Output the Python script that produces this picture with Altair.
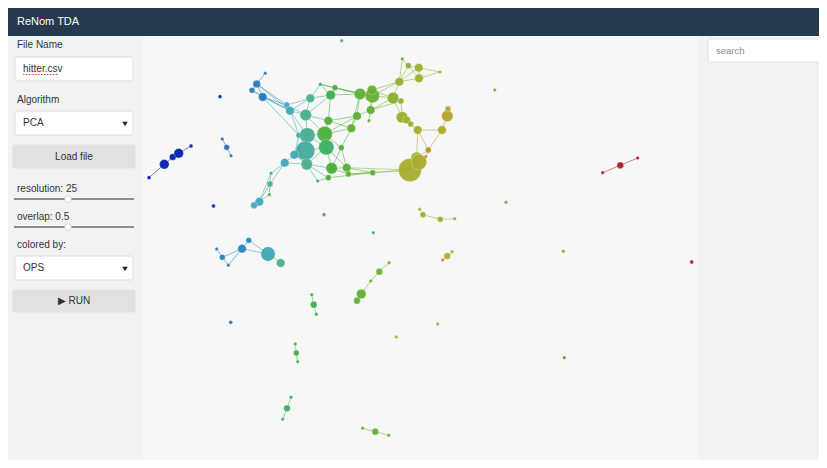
import altair as alt
import pandas as pd

# ---------------- graph data (layout coordinates, cluster size, OPS colour value) -------------
node_id = [
    "a1","a2","a3","a4","a5",
    "s1","s2","s3","s4","s5","s6","s7","s8","s9","s10","s11","s12","s13",
    "b1","b2","b3",
    "c1","c2","c3","c4","c5","c6","c7",
    "d1","d2","d3","d4","d5",
    "e1","e2","e3","e4",
    "f1","f2","f3",
    "g1","g2","g3",
    "h1","h2","h3",
    "i1","i2","i3",
    "j1","j2","j3",
    "k1","k2","k3",
    "m1","m2","m3","m4","m5","m6","m7","m8","m9","m10",
    "m11","m12","m13","m14","m15","m16","m17","m18","m19","m20",
    "m21","m22","m23","m24","m25","m26","m27","m28","m29","m30",
    "m31","m32","m33","m34","m35","m36","m37","m38","m39","m40",
    "m41","m42","m43","m44","m45","m46","m47","m48","m49","m50",
    "m51","m52","m53","m54",
    "n1","n2","n3","n4","n5",
]
node_x = [
    149, 164.3, 172.7, 178.7, 191,
    220, 213.5, 341.7, 324, 373.3, 230.7, 437.7, 396.3, 494.7, 506, 563.3, 691.7, 564.3,
    222.3, 226.7, 231,
    216.7, 222.3, 228.3, 242, 248.7, 268, 280.7,
    389, 379.3, 370.7, 361.3, 357,
    419.7, 423, 440.3, 454.7,
    452, 447.3, 442.7,
    311.7, 313.7, 316.3,
    295.3, 296.3, 297.7,
    291, 287, 282.7,
    362.7, 375.3, 388.7,
    602.7, 620.3, 637.7,
    265.3, 256.7, 252, 262.7, 286.7, 290, 310.3, 305.7, 320.3, 330.7,
    335, 328.3, 299, 307.3, 324.7, 305.3, 294.3, 326.3, 341.3, 284.7,
    306.7, 331.7, 328.3, 317.7, 346.7, 348.3, 372.7, 360, 372.3, 372,
    357, 370.7, 369, 351.3, 402.3, 408.3, 418.7, 440, 419, 399.3,
    393, 401, 402, 406.7, 410.7, 417.7, 442, 447.3, 448, 428.3,
    425.7, 416.7, 410, 419,
    271, 270, 269.3, 259.3, 254,
]
node_y = [
    177.7, 164.3, 157, 153.3, 146,
    96.7, 206, 40.7, 214.7, 232.7, 322.3, 324, 337, 90, 202.3, 251.3, 262, 357.7,
    139, 147.3, 155.7,
    249, 257.3, 265.3, 248.7, 240.3, 254, 263,
    262.7, 271.7, 281, 294, 300.7,
    209.3, 214.7, 219.3, 218.7,
    251.7, 256, 260,
    294.7, 304.7, 314.3,
    344, 353, 361.7,
    397.3, 408.3, 419.3,
    428.3, 431.7, 435.3,
    172.7, 165.3, 158,
    73.3, 84, 90.3, 97, 105, 110.7, 98.3, 115, 84.3, 95,
    87.7, 120.7, 135.3, 135.3, 134, 150.7, 154.7, 147.3, 147.7, 162.7,
    164.3, 168.3, 177.7, 181, 167.7, 174, 172.7, 94, 95.7, 90,
    116, 110, 120.7, 128.3, 59, 65.7, 67.7, 72, 78.3, 81.7,
    98, 101, 117.3, 120, 124, 130, 130, 116, 109, 150,
    156.7, 157.7, 170, 162,
    173.3, 184, 194.7, 201.7, 205.3,
]
node_size = [
    2, 5, 3.5, 5, 2,
    2, 2, 1.8, 2, 1.8, 2, 1.8, 1.8, 1.8, 1.8, 1.8, 2, 1.8,
    1.8, 3, 1.8,
    1.8, 3, 1.8, 4.5, 3, 7.5, 4.5,
    1.8, 3.5, 1.8, 5, 3.5,
    1.8, 3, 3, 1.8,
    1.8, 3.5, 1.8,
    1.8, 3.5, 1.8,
    1.8, 3, 1.8,
    1.8, 3.5, 1.8,
    1.8, 3.5, 1.8,
    1.8, 3.5, 1.8,
    1.8, 4, 3, 4.5, 3, 4.5, 4.5, 6, 1.8, 5,
    3, 4.5, 3, 8, 8, 10, 4.5, 8, 3, 4.5,
    6, 6, 3, 1.8, 4.5, 3, 3, 6, 7.5, 5,
    4.5, 4.5, 1.8, 4.5, 1.8, 3, 4.5, 1.8, 4.5, 4.5,
    6, 3, 6, 4, 3, 4.5, 4.5, 6, 3, 3,
    1.8, 6, 12, 8,
    1.8, 3, 1.8, 4.5, 3.5,
]
node_ops = [
    0.0, 0.0, 0.0, 0.0, 0.02,
    0.02, 0.02, 0.45, 0.55, 0.45, 0.17, 0.8, 0.8, 0.87, 0.87, 0.84, 1.0, 0.91,
    0.15, 0.15, 0.15,
    0.2, 0.2, 0.18, 0.22, 0.22, 0.33, 0.42,
    0.6, 0.6, 0.6, 0.59, 0.58,
    0.72, 0.72, 0.73, 0.74,
    0.78, 0.78, 0.85,
    0.53, 0.53, 0.53,
    0.53, 0.53, 0.53,
    0.52, 0.5, 0.46,
    0.6, 0.6, 0.6,
    1.0, 1.0, 1.0,
    0.17, 0.17, 0.17, 0.17, 0.3, 0.32, 0.42, 0.42, 0.5, 0.52,
    0.55, 0.55, 0.35, 0.42, 0.55, 0.4, 0.32, 0.5, 0.55, 0.3,
    0.42, 0.55, 0.55, 0.5, 0.57, 0.57, 0.57, 0.58, 0.6, 0.6,
    0.58, 0.58, 0.58, 0.58, 0.6, 0.66, 0.72, 0.76, 0.74, 0.68,
    0.66, 0.66, 0.72, 0.72, 0.72, 0.76, 0.78, 0.8, 0.8, 0.86,
    0.88, 0.77, 0.75, 0.76,
    0.38, 0.42, 0.55, 0.32, 0.3,
]
edges = [
    "a1-a2","a2-a3","a3-a4","a4-a5",
    "b1-b2","b2-b3",
    "c1-c2","c2-c3","c2-c4","c3-c4","c4-c5","c4-c6","c5-c6","c6-c7",
    "d1-d2","d2-d3","d3-d4","d4-d5",
    "e1-e2","e2-e3","e3-e4",
    "f1-f2","f2-f3",
    "g1-g2","g2-g3","h1-h2","h2-h3","i1-i2","i2-i3","j1-j2","j2-j3","k1-k2","k2-k3",
    "m1-m2","m2-m3","m2-m4","m3-m4","m4-m5","m4-m6","m2-m5","m2-m6","m3-m6","m4-m13",
    "m5-m6","m5-m7","m6-m7","m6-m8","m5-m8","m7-m9","m7-m10","m9-m11","m9-m10","m10-m11",
    "m7-m8","m8-m10","m8-m12","m6-m13","m8-m14","m6-m14","m8-m15","m10-m12","m12-m15",
    "m11-m28","m10-m28","m9-m28","m11-m29","m12-m31","m12-m34","m14-m15","m13-m14",
    "m14-m16","m13-m17","m16-m17","m14-m18","m15-m18","m15-m19","m15-m34","m16-m18",
    "m17-m20","m16-m21","m17-m21","m20-m21","m18-m21","m18-m22","m19-m22","m21-m22",
    "m21-m23","m21-m24","m22-m23","m23-m24","m22-m25","m22-m26","m25-m26","m18-m25",
    "m19-m34","m19-m25","m25-m27","m26-m27","m27-m53","m26-m53","m25-m53","m23-m27",
    "m28-m29","m28-m30","m28-m31","m29-m32","m30-m32","m31-m32","m31-m34","m32-m33",
    "m15-m31","m29-m40","m30-m40","m29-m41","m30-m41","m32-m41","m32-m42","m28-m34",
    "m40-m35","m40-m36","m40-m37","m40-m39","m35-m36","m36-m37","m37-m38","m39-m38",
    "m36-m39","m37-m39","m41-m40","m41-m43","m42-m43","m41-m42","m43-m44","m44-m45",
    "m45-m46","m43-m46","m46-m47","m47-m48","m48-m49","m46-m50","m47-m50","m50-m51",
    "m50-m52","m46-m52","m52-m53","m51-m53","m53-m54","m52-m54",
    "m20-n1","m20-n2","n1-n2","n2-n3","n1-n4","n2-n4","n4-n5","n3-n4",
]

# ---------------- page furniture (labels and boxes of the ReNom TDA screen) ------------------
panel_names = ["header", "left", "graph", "right"]
panel_x = [0, 5, 143, 698]
panel_x2 = [830, 143, 698, 830]
panel_y = [8, 36, 36, 36]
panel_y2 = [36, 470, 470, 470]
panel_fill = ["#253a4e", "#f2f2f2", "#f7f7f7", "#f2f2f2"]

box_names = ["file", "algo", "load", "color", "run", "search"]
box_x = [15, 15, 13, 15, 13, 708]
box_x2 = [133, 133, 135, 133, 135, 825]
box_y = [57, 111, 145, 256, 290, 39]
box_y2 = [81, 135, 168, 280, 312, 62]
box_fill = ["#ffffff", "#ffffff", "#e1e1e1", "#ffffff", "#e1e1e1", "#ffffff"]
box_stroke = ["#dcdcdc", "#dcdcdc", "#e1e1e1", "#dcdcdc", "#e1e1e1", "#e0e0e0"]

label_text = ["ReNom TDA", "File Name", "hitter.csv", "Algorithm", "PCA", "resolution: 25",
              "overlap: 0.5", "colored by:", "OPS", "search"]
label_x = [17, 17, 23, 17, 23, 17, 17, 17, 23, 716]
label_y = [22, 45, 69, 100, 123, 189, 217, 245, 268, 51]
label_color = ["#ffffff", "#333333", "#333333", "#333333", "#333333", "#333333",
               "#333333", "#333333", "#333333", "#8a8a8a"]
label_size = [11, 10, 10, 10, 10, 10, 10, 10, 10, 9.5]

button_text = ["Load file", "\u25B6  RUN"]
button_x = [74, 74]
button_y = [157, 301]

slider_y = [199, 227]
slider_x = [14, 14]
slider_x2 = [134, 134]
knob_x = [68, 68]

arrow_x = [125, 125]
arrow_y = [124, 269]

# ---------------- tables ----------------
nodes = pd.DataFrame({"id": node_id, "x": node_x, "y": node_y,
                      "members": node_size, "ops": node_ops})
pos = nodes.set_index("id")
edge_rows = []
for e in edges:
    s, t = e.split("-")
    edge_rows.append({"x": pos.loc[s, "x"], "y": pos.loc[s, "y"],
                      "x2": pos.loc[t, "x"], "y2": pos.loc[t, "y"],
                      "ops": (pos.loc[s, "ops"] + pos.loc[t, "ops"]) / 2})
edge_df = pd.DataFrame(edge_rows)

panels = pd.DataFrame({"n": panel_names, "x": panel_x, "x2": panel_x2,
                       "y": panel_y, "y2": panel_y2, "fill": panel_fill})
boxes = pd.DataFrame({"n": box_names, "x": box_x, "x2": box_x2, "y": box_y,
                      "y2": box_y2, "fill": box_fill, "stroke": box_stroke})
labels = pd.DataFrame({"t": label_text, "x": label_x, "y": label_y,
                       "c": label_color, "s": label_size})
buttons = pd.DataFrame({"t": button_text, "x": button_x, "y": button_y})
sliders = pd.DataFrame({"x": slider_x, "x2": slider_x2, "y": slider_y, "k": knob_x})
arrows = pd.DataFrame({"x": arrow_x, "y": arrow_y})
squiggle = pd.DataFrame({"x": [23], "x2": [58], "y": [74.5]})

W, H = 811, 452
XS = alt.Scale(domain=[8, 8 + W], range=[0, W], nice=False, zero=False)
YS = alt.Scale(domain=[8, 8 + H], range=[0, H], nice=False, zero=False)

def X(f="x"):
    return alt.X(f, type="quantitative", scale=XS, axis=None)

def Y(f="y"):
    return alt.Y(f, type="quantitative", scale=YS, axis=None)

FONT = "Liberation Sans"

panel_layer = alt.Chart(panels).mark_rect().encode(
    x=X(), x2="x2", y=Y(), y2="y2",
    fill=alt.Fill("fill:N", scale=None))

box_layer = alt.Chart(boxes).mark_rect(strokeWidth=1, cornerRadius=2).encode(
    x=X(), x2="x2", y=Y(), y2="y2",
    fill=alt.Fill("fill:N", scale=None), stroke=alt.Stroke("stroke:N", scale=None))

label_layer = alt.Chart(labels).mark_text(align="left", baseline="middle", font=FONT).encode(
    x=X(), y=Y(), text="t:N",
    color=alt.Color("c:N", scale=None), size=alt.Size("s:Q", scale=None))

button_layer = alt.Chart(buttons).mark_text(align="center", baseline="middle", font=FONT,
                                            fontSize=10, color="#333333").encode(
    x=X(), y=Y(), text="t:N")

slider_layer = alt.Chart(sliders).mark_rule(color="#8c8c8c", strokeWidth=2).encode(
    x=X(), x2="x2", y=Y())

knob_layer = alt.Chart(sliders).mark_point(filled=True, fill="#ffffff", stroke="#d0d0d0",
                                           strokeWidth=0.8, size=42, opacity=1).encode(
    x=X("k"), y=Y())

arrow_layer = alt.Chart(arrows).mark_point(shape="triangle-down", filled=True,
                                           color="#222222", size=30, opacity=1).encode(
    x=X(), y=Y())

squiggle_layer = alt.Chart(squiggle).mark_rule(color="#e03a3a", strokeWidth=1,
                                               strokeDash=[1.5, 1.5]).encode(
    x=X(), x2="x2", y=Y())

CS = alt.Scale(domain=[0, 0.15, 0.3, 0.42, 0.55, 0.68, 0.78, 0.87, 1.0],
               range=["#0020b0", "#2f70b8", "#46a6bc", "#4aae92", "#4caf3a",
                      "#8cb232", "#b0ac30", "#b88830", "#b01c1c"])

edge_layer = alt.Chart(edge_df).mark_rule(strokeWidth=0.9, opacity=0.6).encode(
    x=X(), x2="x2", y=Y(), y2="y2",
    color=alt.Color("ops:Q", scale=CS, legend=None))

node_layer = alt.Chart(nodes).mark_circle(opacity=0.95, stroke="#ffffff",
                                          strokeWidth=0.6, strokeOpacity=0.5).encode(
    x=X(), y=Y(),
    size=alt.Size("members:Q", scale=alt.Scale(type="pow", exponent=2, domain=[0, 12],
                                               range=[0, 530]), legend=None),
    color=alt.Color("ops:Q", scale=CS, legend=None))

chart = alt.layer(
    panel_layer, box_layer, squiggle_layer, label_layer, button_layer, slider_layer,
    knob_layer, arrow_layer, edge_layer, node_layer
).properties(
    width=W, height=H, padding=0, background="#ffffff",
    autosize=alt.AutoSizeParams(type="none")
).configure_view(stroke=None)

chart.save("out.html", embed_options={"renderer": "svg", "actions": False})
